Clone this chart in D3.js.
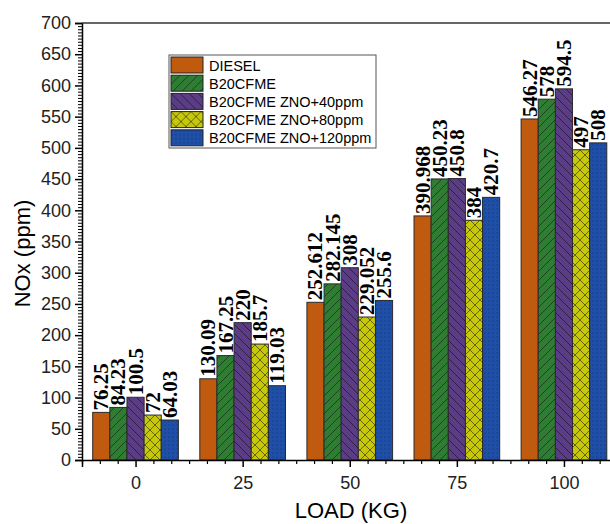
<!DOCTYPE html>
<html>
<head>
<meta charset="utf-8">
<script src="https://cdn.jsdelivr.net/npm/d3@7"></script>
<style>
  html, body { margin: 0; padding: 0; background: #fff; }
  svg { display: block; }
</style>
</head>
<body>
<svg id="chart" width="610" height="524"></svg>
<script>
// chart data
const loads       = [0, 25, 50, 75, 100];
const seriesNames = ['DIESEL', 'B20CFME', 'B20CFME ZNO+40ppm', 'B20CFME ZNO+80ppm', 'B20CFME ZNO+120ppm'];
const diesel      = [76.25, 130.09, 252.612, 390.968, 546.27];
const b20         = [84.23, 167.25, 282.145, 450.23, 578];
const zno40       = [100.5, 220, 308, 450.8, 594.5];
const zno80       = [72, 185.7, 229.052, 384, 497];
const zno120      = [64.03, 119.03, 255.6, 420.7, 508];
const labels      = [
    ['76.25', '130.09', '252.612', '390.968', '546.27'],
    ['84.23', '167.25', '282.145', '450.23', '578'],
    ['100.5', '220', '308', '450.8', '594.5'],
    ['72', '185.7', '229.052', '384', '497'],
    ['64.03', '119.03', '255.6', '420.7', '508']
];
const yTicks      = d3.range(0, 701, 50);

const series = [diesel, b20, zno40, zno80, zno120];

// layout
const LEFT      = 82;
const TOP       = 23;
const BOTTOM    = 460;
const X_MIN     = -12.5;
const X_MAX     = 112.5;
const PX_PER_X  = 107.1 / 25;
const BAR_UNITS = 4;

const FILLS = ['#c05a0e', '#2f7d33', '#5b3d86', '#c8c80a', '#1f4fa6'];

const svg = d3.select('#chart');

const x = d3.scaleLinear()
    .domain([X_MIN, X_MAX])
    .range([LEFT, LEFT + (X_MAX - X_MIN) * PX_PER_X]);

const y = d3.scaleLinear()
    .domain([0, 700])
    .range([BOTTOM, TOP]);

// hatch patterns
const defs = svg.append('defs');

defs.append('pattern')
    .attr('id', 'p0')
    .attr('patternUnits', 'userSpaceOnUse')
    .attr('width', 8).attr('height', 8)
    .append('rect').attr('width', 8).attr('height', 8).attr('fill', FILLS[0]);

let pg = defs.append('pattern')
    .attr('id', 'p1')
    .attr('patternUnits', 'userSpaceOnUse')
    .attr('width', 9).attr('height', 9);
pg.append('rect').attr('width', 9).attr('height', 9).attr('fill', FILLS[1]);
pg.append('path')
    .attr('d', 'M0,9 L9,0 M-3,3 L3,-3 M6,12 L12,6')
    .attr('stroke', '#17361a').attr('stroke-width', 0.8);

let pp = defs.append('pattern')
    .attr('id', 'p2')
    .attr('patternUnits', 'userSpaceOnUse')
    .attr('width', 9).attr('height', 9);
pp.append('rect').attr('width', 9).attr('height', 9).attr('fill', FILLS[2]);
pp.append('path')
    .attr('d', 'M0,0 L9,9 M-3,6 L3,12 M6,-3 L12,3')
    .attr('stroke', '#231636').attr('stroke-width', 0.8);

let py = defs.append('pattern')
    .attr('id', 'p3')
    .attr('patternUnits', 'userSpaceOnUse')
    .attr('width', 10).attr('height', 10);
py.append('rect').attr('width', 10).attr('height', 10).attr('fill', FILLS[3]);
py.append('path')
    .attr('d', 'M0,0 L10,10 M0,10 L10,0')
    .attr('stroke', '#4a4a10').attr('stroke-width', 0.8);

let pb = defs.append('pattern')
    .attr('id', 'p4')
    .attr('patternUnits', 'userSpaceOnUse')
    .attr('width', 4).attr('height', 4);
pb.append('rect').attr('width', 4).attr('height', 4).attr('fill', FILLS[4]);
pb.append('circle')
    .attr('cx', 1).attr('cy', 1).attr('r', 0.55)
    .attr('fill', '#0e2a60');

// bars
series.forEach((values, si) => {
    const g = svg.append('g');

    g.selectAll('rect')
        .data(values)
        .join('rect')
        .attr('x', (d, i) => x(loads[i] + (si - 2.5) * BAR_UNITS))
        .attr('y', d => y(d))
        .attr('width', x(BAR_UNITS) - x(0))
        .attr('height', d => y(0) - y(d))
        .attr('fill', `url(#p${si})`)
        .attr('stroke', '#2a2a2a')
        .attr('stroke-width', 1);

    // value labels, rotated
    g.selectAll('text')
        .data(values)
        .join('text')
        .attr('transform', (d, i) => {
            const cx = x(loads[i] + (si - 2) * BAR_UNITS);
            return `translate(${cx + 7},${y(d) - 2}) rotate(-90)`;
        })
        .attr('font-family', '"Liberation Serif", "Times New Roman", serif')
        .attr('font-weight', 'bold')
        .attr('font-size', 21)
        .attr('fill', '#000')
        .text((d, i) => labels[si][i]);
});

// y axis
const yAxis = d3.axisLeft(y)
    .tickValues(yTicks)
    .tickSize(7)
    .tickPadding(4);

const yMinor = d3.axisLeft(y)
    .tickValues(d3.range(0, 701, 5).filter(v => v % 50 !== 0))
    .tickSize(4)
    .tickFormat('');

svg.append('g')
    .attr('transform', `translate(${LEFT},0)`)
    .call(yMinor)
    .call(g => g.select('.domain').remove())
    .call(g => g.selectAll('line').attr('stroke', '#000').attr('stroke-width', 1));

svg.append('g')
    .attr('transform', `translate(${LEFT},0)`)
    .call(yAxis)
    .call(g => g.select('.domain').attr('stroke', '#000').attr('stroke-width', 1.5))
    .call(g => g.selectAll('line').attr('stroke', '#000').attr('stroke-width', 1.5))
    .call(g => g.selectAll('text')
        .attr('font-family', '"Liberation Sans", Arial, sans-serif')
        .attr('font-size', 18)
        .attr('fill', '#222'));

// x axis
const xAxis = d3.axisBottom(x)
    .tickValues(loads)
    .tickSize(7)
    .tickPadding(9);

const xMinor = d3.axisBottom(x)
    .tickValues(d3.range(-3, 28).map(k => k * 25 / 6).filter((v, k) => (k - 3) % 6 !== 0))
    .tickSize(4)
    .tickFormat('');

svg.append('g')
    .attr('transform', `translate(0,${BOTTOM})`)
    .call(xMinor)
    .call(g => g.select('.domain').remove())
    .call(g => g.selectAll('line').attr('stroke', '#000').attr('stroke-width', 1.2));

svg.append('g')
    .attr('transform', `translate(0,${BOTTOM})`)
    .call(xAxis)
    .call(g => g.select('.domain').attr('stroke', '#000').attr('stroke-width', 1.5))
    .call(g => g.selectAll('line').attr('stroke', '#000').attr('stroke-width', 1.5))
    .call(g => g.selectAll('text')
        .attr('font-family', '"Liberation Sans", Arial, sans-serif')
        .attr('font-size', 18)
        .attr('fill', '#222'));

// top frame line
svg.append('line')
    .attr('x1', LEFT).attr('x2', x(X_MAX))
    .attr('y1', TOP).attr('y2', TOP)
    .attr('stroke', '#333')
    .attr('stroke-width', 1.5);

// axis titles
svg.append('text')
    .attr('x', (LEFT + 610) / 2 + 5)
    .attr('y', 518)
    .attr('text-anchor', 'middle')
    .attr('font-family', '"Liberation Sans", Arial, sans-serif')
    .attr('font-size', 22)
    .text('LOAD (KG)');

svg.append('text')
    .attr('transform', `translate(30,${(TOP + BOTTOM) / 2 + 12}) rotate(-90)`)
    .attr('text-anchor', 'middle')
    .attr('font-family', '"Liberation Sans", Arial, sans-serif')
    .attr('font-size', 22)
    .text('NOx (ppm)');

// legend
const legend = svg.append('g').attr('transform', 'translate(169,55)');

legend.append('rect')
    .attr('width', 207)
    .attr('height', 93)
    .attr('fill', '#fff')
    .attr('stroke', '#555')
    .attr('stroke-width', 1);

const rows = legend.selectAll('g.row')
    .data(seriesNames)
    .join('g')
    .attr('class', 'row')
    .attr('transform', (d, i) => `translate(2,${2 + i * 18.2})`);

rows.append('rect')
    .attr('width', 32)
    .attr('height', 16)
    .attr('fill', (d, i) => `url(#p${i})`)
    .attr('stroke', '#222')
    .attr('stroke-width', 1);

rows.append('text')
    .attr('x', 38)
    .attr('y', 13.5)
    .attr('font-family', '"Liberation Sans", Arial, sans-serif')
    .attr('font-size', 14.5)
    .attr('fill', '#000')
    .text(d => d);
</script>
</body>
</html>
